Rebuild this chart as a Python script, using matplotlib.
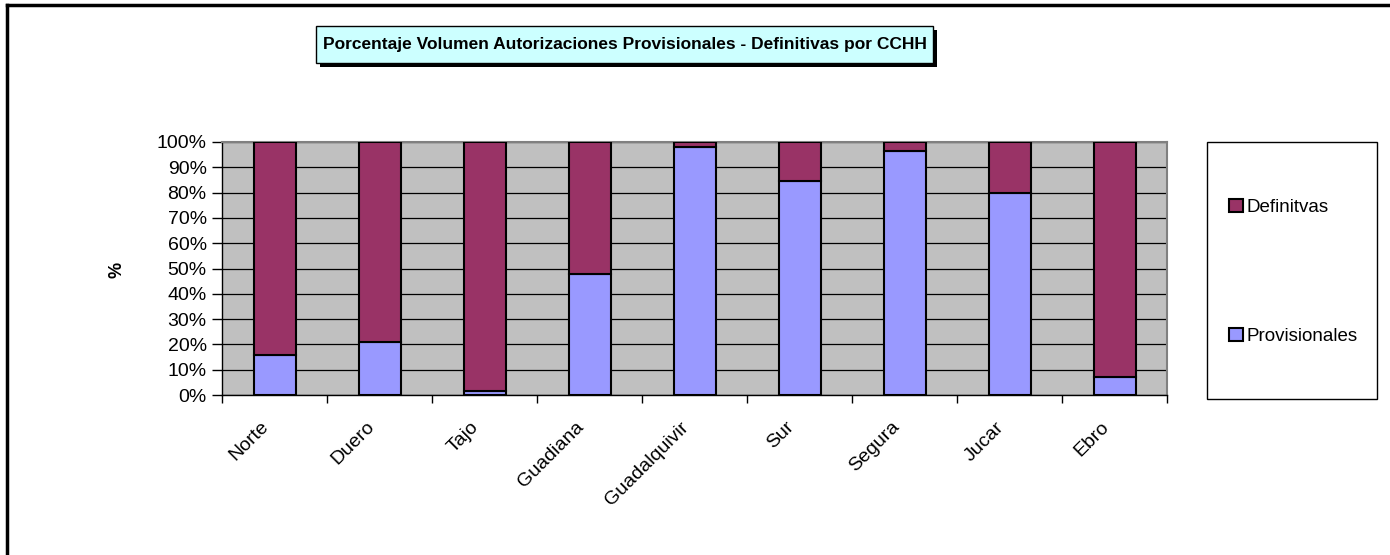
import numpy as np
import matplotlib
matplotlib.use("Agg")
import matplotlib.pyplot as plt
from matplotlib.patches import Rectangle, Patch
from matplotlib.lines import Line2D
from matplotlib.ticker import PercentFormatter
from matplotlib.transforms import ScaledTranslation

plt.rcParams['font.family'] = ['Liberation Sans', 'DejaVu Sans']

cuencas = ['Norte', 'Duero', 'Tajo', 'Guadiana', 'Guadalquivir', 'Sur', 'Segura', 'Jucar', 'Ebro']
provisionales = [16, 21, 1.4, 48, 98.2, 84.7, 96.6, 79.7, 7.1]
definitivas = [100 - p for p in provisionales]

col_def = '#993366'
col_prov = '#9999FF'

W, H = 1390, 555
fig = plt.figure(figsize=(W / 100, H / 100), dpi=100)

def fx(px):
    return px / W

def fy(py):
    return 1 - py / H

# marco exterior (solo arriba e izquierda)
fig.add_artist(Line2D([fx(7), 1], [fy(5), fy(5)], color='black', lw=2.5, transform=fig.transFigure))
fig.add_artist(Line2D([fx(7), fx(7)], [fy(5), 0], color='black', lw=2.5, transform=fig.transFigure))

# titulo con sombra
tx0, tx1, ty0, ty1 = 316, 933, 26, 63
fig.add_artist(Rectangle((fx(tx0 + 4), fy(ty1 + 4)), fx(tx1 - tx0), (ty1 - ty0) / H,
                         transform=fig.transFigure, facecolor='black', edgecolor='black', lw=0))
fig.add_artist(Rectangle((fx(tx0), fy(ty1)), fx(tx1 - tx0), (ty1 - ty0) / H,
                         transform=fig.transFigure, facecolor='#CCFFFF', edgecolor='black', lw=1))
fig.text(fx((tx0 + tx1) / 2), fy((ty0 + ty1) / 2),
         'Porcentaje Volumen Autorizaciones Provisionales - Definitivas por CCHH',
         ha='center', va='center', fontsize=12.5, fontweight='bold')

# area de grafico
ax = fig.add_axes([fx(222), fy(395), fx(1167 - 222), (395 - 142) / H])
ax.set_facecolor('#C0C0C0')
x = np.arange(len(cuencas))
ax.bar(x, provisionales, width=0.4, color=col_prov, edgecolor='black', lw=1.5, zorder=3, label='Provisionales')
ax.bar(x, definitivas, width=0.4, bottom=provisionales, color=col_def, edgecolor='black', lw=1.5, zorder=3, label='Definitvas')

ax.set_xlim(-0.5, len(cuencas) - 0.5)
ax.set_ylim(0, 100)
ax.set_yticks(np.arange(0, 101, 10))
ax.yaxis.set_major_formatter(PercentFormatter(decimals=0))
ax.grid(axis='y', color='black', lw=0.9, zorder=1)
ax.set_axisbelow(True)

ax.set_xticks(x)
ax.set_xticklabels(cuencas, rotation=45, ha='right', va='center', rotation_mode='anchor', fontsize=14)
ax.set_xticks(np.arange(-0.5, len(cuencas)), minor=True)
ax.tick_params(axis='x', which='major', length=0, pad=14)
ax.tick_params(axis='x', which='minor', length=6, width=1, direction='out')
ax.tick_params(axis='y', labelsize=14, length=7, width=1, pad=4)
desp = ScaledTranslation(-0.08, -0.10, fig.dpi_scale_trans)
for lab in ax.get_xticklabels():
    lab.set_transform(lab.get_transform() + desp)

for s in ['top', 'right']:
    ax.spines[s].set_color('#808080')
    ax.spines[s].set_linewidth(1.5)
for s in ['left', 'bottom']:
    ax.spines[s].set_color('black')
    ax.spines[s].set_linewidth(1)

fig.text(fx(117), fy(270), '%', rotation=90, ha='center', va='center', fontsize=13, fontweight='bold')

# leyenda
lx0, lx1, ly0, ly1 = 1207, 1377, 142, 399
fig.add_artist(Rectangle((fx(lx0), fy(ly1)), fx(lx1 - lx0), (ly1 - ly0) / H,
                         transform=fig.transFigure, facecolor='white', edgecolor='black', lw=1))
handles = [Patch(facecolor=col_def, edgecolor='black', lw=1.5), Patch(facecolor=col_prov, edgecolor='black', lw=1.5)]
fig.legend(handles, ['Definitvas', 'Provisionales'], loc='center left',
           bbox_to_anchor=(fx(1220), fy(272)), frameon=False, fontsize=13.5,
           handlelength=0.7, handleheight=0.7, handletextpad=0.2, labelspacing=6.0, borderpad=0)

fig.savefig('out.png', dpi=100)
